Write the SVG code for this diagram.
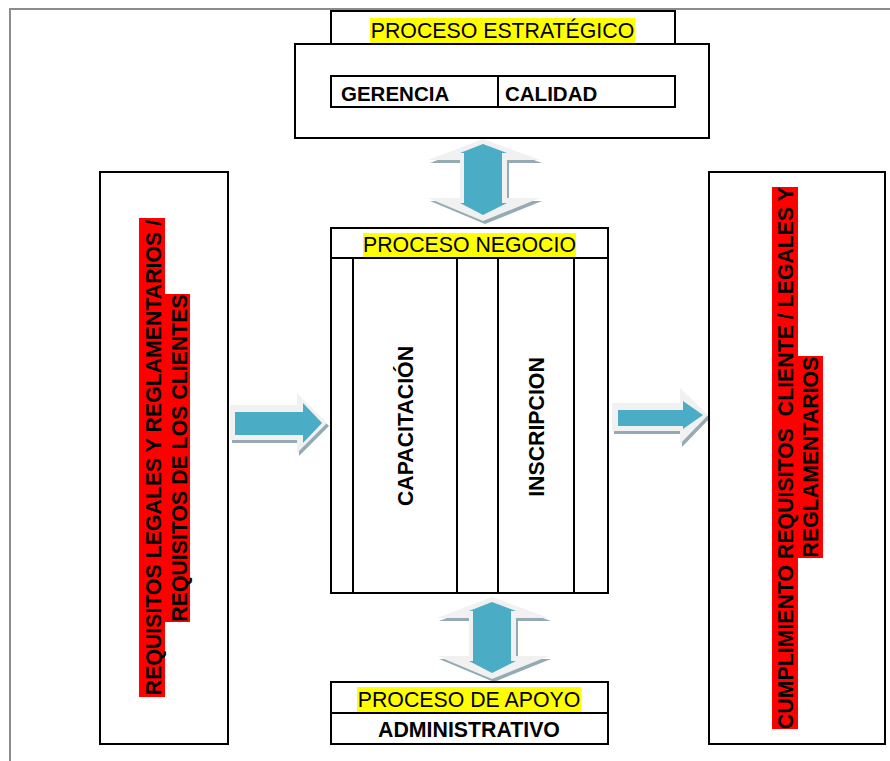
<svg xmlns="http://www.w3.org/2000/svg" width="890" height="761" viewBox="0 0 890 761">
  <style>
    .box { fill: #ffffff; stroke: #000000; stroke-width: 2; }
    .ln { stroke: #000000; stroke-width: 2; fill: none; }
    .frame { stroke: #8c8c8c; stroke-width: 2; fill: none; }
    .t { font-family: "Liberation Sans", Arial, sans-serif; font-size: 21.3px; fill: #000000; }
    .b { font-weight: bold; }
    .hlY { fill: #ffff00; }
    .hlR { fill: #ff0000; }
    .arLight { fill: #f1f1f1; }
    .arShade { fill: #94aab5; }
    .arBlue { fill: #4bacc6; }
  </style>
  <defs>
    <!-- double-headed vertical block arrow with bevel look -->
    <g id="udArrow">
      <polygon class="arShade" transform="translate(2,3)" points="483,139 540,160 507,160 507,198 540,198 483,221 428,198 460,198 460,160 428,160"/>
      <polygon class="arLight" points="483,139 540,160 507,160 507,198 540,198 483,221 428,198 460,198 460,160 428,160"/>
      <polygon class="arBlue" points="483,144 507,153 502,153 502,203 507,203 483,215 460,203 464,203 464,153 460,153"/>
    </g>
  </defs>

  <!-- page frame -->
  <polyline class="frame" points="10,761 10,9 890,9"/>

  <!-- connectors -->
  <g id="connectors">
    <use href="#udArrow"/>
    <use href="#udArrow" transform="translate(9,458)"/>
    <g id="arrow-in">
      <polygon class="arShade" transform="translate(2,3)" points="230,405 297,405 297,393 327,423 297,453 297,440 230,440"/>
      <polygon class="arLight" points="230,405 297,405 297,393 327,423 297,453 297,440 230,440"/>
      <polygon class="arBlue" points="235,412 303,412 303,403 322,423 303,443 303,435 235,435"/>
    </g>
    <g id="arrow-out">
      <polygon class="arShade" transform="translate(2,3)" points="612,403 680,403 680,388 708,415 680,444 680,431 612,431"/>
      <polygon class="arLight" points="612,403 680,403 680,388 708,415 680,444 680,431 612,431"/>
      <polygon class="arBlue" points="618,410 683,410 683,401 703,415 683,429 683,426 618,426"/>
    </g>
  </g>

  <!-- strategic process -->
  <g id="proceso-estrategico">
    <rect class="box" x="331" y="11" width="344" height="33"/>
    <rect class="hlY" x="370" y="18" width="265" height="25"/>
    <text class="t" x="502.5" y="38" text-anchor="middle">PROCESO ESTRATÉGICO</text>
    <rect class="box" x="295" y="44" width="414" height="94"/>
    <rect class="box" x="331" y="76" width="344" height="31"/>
    <line class="ln" x1="498" y1="76" x2="498" y2="107"/>
    <text class="t b" x="341" y="101" style="font-size:20.5px">GERENCIA</text>
    <text class="t b" x="505" y="101" style="font-size:20.5px">CALIDAD</text>
  </g>

  <!-- inputs -->
  <g id="requisitos">
    <rect class="box" x="100" y="172" width="128" height="572"/>
    <rect class="hlR" x="139" y="218" width="26" height="479"/>
    <rect class="hlR" x="165" y="294" width="25" height="328"/>
    <text class="t b" transform="translate(161,457.5) rotate(-90)" text-anchor="middle">REQUISITOS LEGALES Y REGLAMENTARIOS /</text>
    <text class="t b" transform="translate(187,458) rotate(-90)" text-anchor="middle">REQUISITOS DE LOS CLIENTES</text>
  </g>

  <!-- core business process -->
  <g id="proceso-negocio">
    <rect class="box" x="331" y="228" width="277" height="365"/>
    <line class="ln" x1="331" y1="258" x2="608" y2="258"/>
    <line class="ln" x1="353" y1="258" x2="353" y2="593"/>
    <line class="ln" x1="457" y1="258" x2="457" y2="593"/>
    <line class="ln" x1="498" y1="258" x2="498" y2="593"/>
    <line class="ln" x1="574" y1="258" x2="574" y2="593"/>
    <rect class="hlY" x="363" y="233" width="213" height="24"/>
    <text class="t" x="469.5" y="252" text-anchor="middle">PROCESO NEGOCIO</text>
    <text class="t b" transform="translate(412.5,426) rotate(-90)" text-anchor="middle">CAPACITACIÓN</text>
    <text class="t b" transform="translate(543.5,427) rotate(-90)" text-anchor="middle">INSCRIPCION</text>
  </g>

  <!-- support process -->
  <g id="proceso-apoyo">
    <rect class="box" x="331" y="682" width="277" height="62"/>
    <line class="ln" x1="331" y1="713" x2="608" y2="713"/>
    <rect class="hlY" x="357" y="687" width="224" height="25"/>
    <text class="t" x="469" y="707" text-anchor="middle">PROCESO DE APOYO</text>
    <text class="t b" x="469" y="737" text-anchor="middle">ADMINISTRATIVO</text>
  </g>

  <!-- outputs -->
  <g id="cumplimiento">
    <rect class="box" x="709" y="172" width="176" height="572"/>
    <rect class="hlR" x="772" y="187" width="26" height="542"/>
    <rect class="hlR" x="798" y="356" width="25" height="202"/>
    <text class="t b" xml:space="preserve" transform="translate(793,458) rotate(-90)" text-anchor="middle">CUMPLIMIENTO REQUISITOS  CLIENTE / LEGALES Y</text>
    <text class="t b" transform="translate(818,457) rotate(-90)" text-anchor="middle">REGLAMENTARIOS</text>
  </g>
</svg>
